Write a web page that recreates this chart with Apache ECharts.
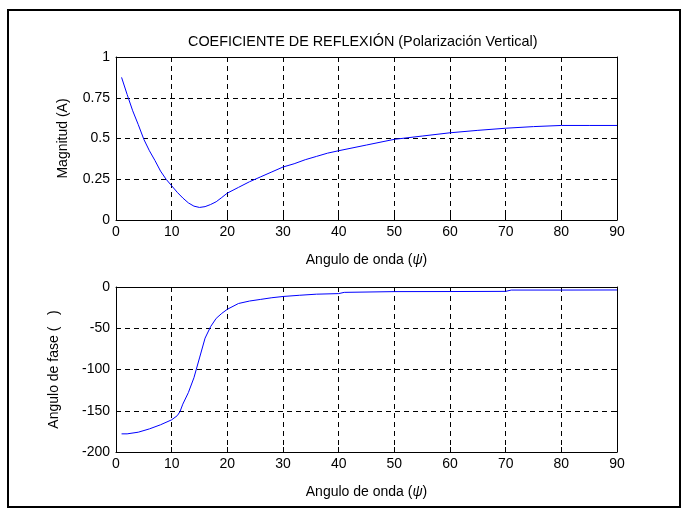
<!DOCTYPE html>
<html>
<head>
<meta charset="utf-8">
<script src="https://cdn.jsdelivr.net/npm/echarts@6/dist/echarts.min.js"></script>
<style>
html,body{margin:0;padding:0;background:#fff;}
#c{width:686px;height:512px;}
</style>
</head>
<body>
<div id="c"></div>
<script>
// Magnitude (top plot)
var magX = [1,2,3,4,5,6,7,8,9,10,11,12,13,14,15,16,17,18,19,20,22,24,26,28,30,32,34,36,38,40,45,50,55,60,65,70,75,80,85,90];
var magY = [0.875,0.77,0.67,0.585,0.495,0.425,0.365,0.30,0.25,0.21,0.17,0.135,0.105,0.085,0.077,0.082,0.095,0.112,0.138,0.165,0.20,0.235,0.265,0.295,0.325,0.345,0.37,0.39,0.41,0.425,0.46,0.495,0.515,0.535,0.55,0.563,0.573,0.58,0.58,0.58];
// Phase (bottom plot)
var phaseX = [1,2,4,6,8,10,11,11.5,12,13,14,15,16,17,18,19,20,22,24,26,28,30,33,36,40,41,50,60,70,71,80,90];
var phaseY = [-178,-178,-176,-172,-167,-161,-156,-151,-142,-128,-110,-86,-62,-48,-38,-32,-27,-20,-17,-15,-13,-11.5,-10,-8.7,-8,-6.5,-5.6,-5.5,-5.3,-3.7,-3.7,-3.6];
var xTicks = [0,10,20,30,40,50,60,70,80,90];
var magTicks = [0,0.25,0.5,0.75,1];
var phaseTicks = [-200,-150,-100,-50,0];

var titleText = 'COEFICIENTE DE REFLEXIÓN (Polarización Vertical)';
var xName = 'Angulo de onda ({i|ψ})';
var magName = 'Magnitud (A)';
var phaseName = 'Angulo de fase (   )';

function pairs(xs, ys){ return xs.map(function(x,i){ return [x, ys[i]]; }); }

var FONT = 'Liberation Sans, Arial, sans-serif';
var FS = 14;
var dash = {color:'#000', width:1, type:[5,4]};
var labelStyle = {color:'#000', fontSize:FS, fontFamily:FONT};

function mainX(gi){
  return {
    type:'value', gridIndex:gi, min:0, max:90, interval:10, position:'bottom',
    axisLine:{show:true, onZero:false, lineStyle:{color:'#000', width:1}},
    axisTick:{show:true, inside:true, length:5, lineStyle:{color:'#000'}},
    axisLabel:Object.assign({margin:5}, labelStyle),
    splitLine:{show:true, showMinLine:false, showMaxLine:false, lineStyle:dash},
    name:xName, nameLocation:'middle', nameGap:33,
    nameTextStyle:{color:'#000', fontSize:FS, fontFamily:FONT, rich:{i:{fontStyle:'italic', fontSize:FS, fontFamily:FONT, color:'#000'}}}
  };
}
function topX(gi){
  return {
    type:'value', gridIndex:gi, min:0, max:90, interval:10, position:'top',
    axisLine:{show:true, onZero:false, lineStyle:{color:'#000', width:1}},
    axisTick:{show:true, inside:true, length:5, lineStyle:{color:'#000'}},
    axisLabel:{show:false}, splitLine:{show:false}
  };
}
function mainY(gi, mn, mx, iv, name, gap){
  return {
    type:'value', gridIndex:gi, min:mn, max:mx, interval:iv, position:'left',
    axisLine:{show:true, onZero:false, lineStyle:{color:'#000', width:1}},
    axisTick:{show:true, inside:true, length:5, lineStyle:{color:'#000'}},
    axisLabel:Object.assign({margin:6}, labelStyle),
    splitLine:{show:true, showMinLine:false, showMaxLine:false, lineStyle:dash},
    name:name, nameLocation:'middle', nameGap:gap, nameRotate:90,
    nameTextStyle:{color:'#000', fontSize:FS, fontFamily:FONT}
  };
}
function rightY(gi, mn, mx, iv){
  return {
    type:'value', gridIndex:gi, min:mn, max:mx, interval:iv, position:'right',
    axisLine:{show:true, onZero:false, lineStyle:{color:'#000', width:1}},
    axisTick:{show:true, inside:true, length:5, lineStyle:{color:'#000'}},
    axisLabel:{show:false}, splitLine:{show:false}
  };
}

var chart = echarts.init(document.getElementById('c'), null, {renderer:'canvas'});
chart.setOption({
  backgroundColor:'#fff',
  animation:false,
  title:{text:titleText, left:183, top:30, textStyle:{color:'#000', fontSize:14.4, fontWeight:'normal', fontFamily:FONT}},
  graphic:[{type:'rect', shape:{x:8, y:10, width:672, height:497}, style:{fill:null, stroke:'#000', lineWidth:2}, z:100}],
  grid:[
    {left:116, top:57, width:501, height:163},
    {left:116, top:287, width:501, height:165}
  ],
  xAxis:[mainX(0), mainX(1), topX(0), topX(1)],
  yAxis:[
    mainY(0, 0, 1, 0.25, magName, 46),
    mainY(1, -200, 0, 50, phaseName, 55),
    rightY(0, 0, 1, 0.25),
    rightY(1, -200, 0, 50)
  ],
  series:[
    {type:'line', xAxisIndex:0, yAxisIndex:0, data:pairs(magX, magY), showSymbol:false, lineStyle:{color:'#0000ff', width:1}, itemStyle:{color:'#0000ff'}},
    {type:'line', xAxisIndex:1, yAxisIndex:1, data:pairs(phaseX, phaseY), showSymbol:false, lineStyle:{color:'#0000ff', width:1}, itemStyle:{color:'#0000ff'}}
  ]
});
</script>
</body>
</html>
